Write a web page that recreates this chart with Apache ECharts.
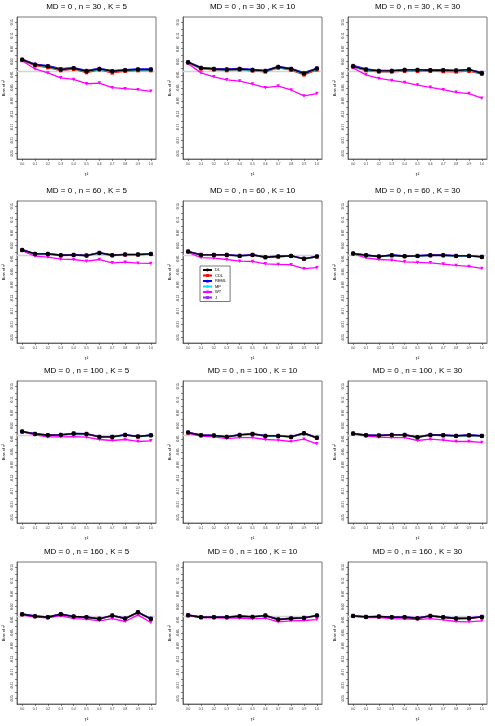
<!DOCTYPE html>
<html>
<head>
<meta charset="utf-8">
<script src="https://cdn.jsdelivr.net/npm/echarts@6.0.0/dist/echarts.min.js"></script>
<style>
  html, body { margin: 0; padding: 0; background: #fff; }
  #main { width: 495px; height: 726px; }
</style>
</head>
<body>
<div id="main"></div>
<script>
// x values (tau^2) and axis ticks
var xVals = [0.0, 0.1, 0.2, 0.3, 0.4, 0.5, 0.6, 0.7, 0.8, 0.9, 1.0];
var yLabelVals = [-0.25, -0.21, -0.17, -0.13, -0.09, -0.05, -0.01, 0.03, 0.07, 0.11, 0.15];
var yTickVals = [-0.25, -0.23, -0.21, -0.19, -0.17, -0.15, -0.13, -0.11, -0.09, -0.07, -0.05,
                 -0.03, -0.01, 0.01, 0.03, 0.05, 0.07, 0.09, 0.11, 0.13, 0.15];

var panelTitles = [
  'MD = 0 , n = 30 , K = 5',  'MD = 0 , n = 30 , K = 10',  'MD = 0 , n = 30 , K = 30',
  'MD = 0 , n = 60 , K = 5',  'MD = 0 , n = 60 , K = 10',  'MD = 0 , n = 60 , K = 30',
  'MD = 0 , n = 100 , K = 5', 'MD = 0 , n = 100 , K = 10', 'MD = 0 , n = 100 , K = 30',
  'MD = 0 , n = 160 , K = 5', 'MD = 0 , n = 160 , K = 10', 'MD = 0 , n = 160 , K = 30'
];

// one row per panel, 11 values each (tau^2 = 0 .. 1)
var dl = [
  [0.036, 0.021, 0.016, 0.006, 0.010, 0.001, 0.008, 0.001, 0.004, 0.006, 0.006],
  [0.028, 0.011, 0.008, 0.006, 0.008, 0.005, 0.002, 0.014, 0.008, -0.006, 0.009],
  [0.016, 0.006, 0.002, 0.002, 0.005, 0.005, 0.004, 0.004, 0.003, 0.006, -0.005],
  [0.017, 0.005, 0.005, 0.001, 0.002, 0.000, 0.008, 0.001, 0.003, 0.003, 0.005],
  [0.012, 0.002, 0.002, 0.002, -0.001, 0.002, -0.005, -0.003, -0.001, -0.010, -0.003],
  [0.006, 0.001, -0.003, 0.001, -0.002, -0.001, 0.001, 0.001, -0.001, -0.001, -0.004],
  [0.012, 0.005, 0.001, 0.002, 0.006, 0.005, -0.004, -0.004, 0.002, -0.003, 0.001],
  [0.009, 0.001, 0.000, -0.004, 0.002, 0.005, -0.001, -0.001, -0.004, 0.007, -0.007],
  [0.006, 0.001, 0.000, 0.002, 0.002, -0.005, 0.002, 0.001, -0.001, 0.001, -0.001],
  [0.007, 0.001, -0.002, 0.007, 0.000, -0.002, -0.007, 0.003, -0.006, 0.013, -0.007],
  [0.004, -0.002, -0.002, -0.002, 0.001, -0.001, 0.003, -0.009, -0.006, -0.004, 0.003],
  [0.002, -0.001, 0.000, -0.002, -0.002, -0.005, 0.002, -0.002, -0.006, -0.005, -0.001]
];
var cdl = [
  [0.034, 0.018, 0.012, 0.003, 0.007, -0.003, 0.005, -0.004, 0.001, 0.003, 0.003],
  [0.026, 0.008, 0.005, 0.003, 0.005, 0.002, -0.001, 0.011, 0.004, -0.010, 0.005],
  [0.013, 0.003, -0.001, -0.001, 0.001, 0.001, 0.001, 0.000, -0.001, 0.001, -0.008],
  [0.016, 0.004, 0.004, 0.000, 0.001, -0.001, 0.007, 0.000, 0.002, 0.002, 0.004],
  [0.011, 0.001, 0.001, 0.001, -0.002, 0.001, -0.006, -0.004, -0.002, -0.011, -0.004],
  [0.005, 0.000, -0.004, 0.000, -0.003, -0.002, 0.000, 0.000, -0.002, -0.002, -0.005],
  [0.011, 0.004, 0.000, 0.001, 0.005, 0.004, -0.005, -0.005, 0.001, -0.004, 0.000],
  [0.008, 0.000, -0.001, -0.005, 0.001, 0.004, -0.002, -0.002, -0.005, 0.006, -0.008],
  [0.005, 0.000, -0.001, 0.001, 0.001, -0.006, 0.001, 0.000, -0.002, 0.000, -0.002],
  [0.006, 0.000, -0.003, 0.006, -0.001, -0.003, -0.008, 0.002, -0.007, 0.012, -0.008],
  [0.003, -0.003, -0.003, -0.003, 0.000, -0.002, 0.002, -0.010, -0.007, -0.005, 0.002],
  [0.001, -0.002, -0.001, -0.003, -0.003, -0.006, 0.001, -0.003, -0.007, -0.006, -0.002]
];
var reml = [
  [0.038, 0.023, 0.018, 0.009, 0.012, 0.004, 0.010, 0.003, 0.006, 0.008, 0.008],
  [0.030, 0.013, 0.010, 0.008, 0.010, 0.007, 0.004, 0.016, 0.010, -0.003, 0.011],
  [0.019, 0.008, 0.004, 0.004, 0.006, 0.006, 0.005, 0.005, 0.004, 0.006, -0.002],
  [0.018, 0.006, 0.006, 0.002, 0.003, 0.001, 0.009, 0.002, 0.004, 0.004, 0.006],
  [0.013, 0.003, 0.003, 0.003, 0.000, 0.003, -0.004, -0.002, 0.000, -0.009, -0.002],
  [0.007, 0.002, -0.002, 0.002, -0.001, 0.000, 0.002, 0.002, 0.000, 0.000, -0.003],
  [0.013, 0.006, 0.002, 0.003, 0.007, 0.006, -0.003, -0.003, 0.003, -0.002, 0.002],
  [0.010, 0.002, 0.001, -0.003, 0.003, 0.006, 0.000, 0.000, -0.003, 0.008, -0.006],
  [0.007, 0.002, 0.001, 0.003, 0.003, -0.004, 0.003, 0.002, 0.000, 0.002, 0.000],
  [0.008, 0.002, -0.001, 0.008, 0.001, -0.001, -0.006, 0.004, -0.005, 0.014, -0.006],
  [0.005, -0.001, -0.001, -0.001, 0.002, 0.000, 0.004, -0.008, -0.005, -0.003, 0.004],
  [0.003, 0.000, 0.001, -0.001, -0.001, -0.004, 0.003, -0.001, -0.005, -0.004, 0.000]
];
var mp = [
  [0.035, 0.020, 0.014, 0.004, 0.008, 0.000, 0.006, -0.001, 0.002, 0.004, 0.004],
  [0.027, 0.009, 0.006, 0.004, 0.006, 0.003, 0.000, 0.012, 0.006, -0.008, 0.007],
  [0.014, 0.004, 0.000, 0.000, 0.003, 0.002, 0.002, 0.002, 0.001, 0.003, -0.006],
  [0.016, 0.004, 0.004, 0.001, 0.001, -0.001, 0.007, 0.000, 0.002, 0.002, 0.004],
  [0.011, 0.001, 0.001, 0.001, -0.002, 0.001, -0.005, -0.004, -0.002, -0.010, -0.004],
  [0.005, 0.000, -0.003, 0.000, -0.002, -0.002, 0.000, 0.000, -0.002, -0.002, -0.004],
  [0.011, 0.004, 0.001, 0.001, 0.005, 0.004, -0.004, -0.005, 0.001, -0.003, 0.000],
  [0.008, 0.000, -0.001, -0.004, 0.001, 0.004, -0.002, -0.001, -0.004, 0.006, -0.007],
  [0.005, 0.000, 0.000, 0.001, 0.001, -0.005, 0.001, 0.000, -0.001, 0.000, -0.001],
  [0.006, 0.000, -0.002, 0.006, 0.000, -0.002, -0.007, 0.002, -0.006, 0.012, -0.007],
  [0.003, -0.002, -0.002, -0.002, 0.000, -0.001, 0.002, -0.009, -0.006, -0.004, 0.002],
  [0.001, -0.001, 0.000, -0.002, -0.002, -0.005, 0.001, -0.002, -0.006, -0.005, -0.001]
];
var wt = [
  [0.033, 0.008, -0.004, -0.019, -0.024, -0.037, -0.035, -0.049, -0.052, -0.055, -0.060],
  [0.024, -0.004, -0.016, -0.025, -0.029, -0.038, -0.049, -0.044, -0.056, -0.074, -0.067],
  [0.011, -0.010, -0.021, -0.027, -0.033, -0.041, -0.048, -0.055, -0.063, -0.067, -0.081],
  [0.015, -0.002, -0.005, -0.011, -0.012, -0.017, -0.012, -0.022, -0.020, -0.023, -0.024],
  [0.010, -0.006, -0.008, -0.012, -0.017, -0.018, -0.025, -0.027, -0.028, -0.040, -0.037],
  [0.005, -0.007, -0.012, -0.014, -0.019, -0.021, -0.022, -0.026, -0.030, -0.033, -0.039],
  [0.011, 0.002, -0.004, -0.004, -0.003, -0.005, -0.012, -0.015, -0.012, -0.018, -0.016],
  [0.007, -0.002, -0.004, -0.009, -0.006, -0.006, -0.012, -0.014, -0.018, -0.011, -0.025],
  [0.005, -0.002, -0.005, -0.006, -0.006, -0.015, -0.011, -0.014, -0.018, -0.018, -0.021],
  [0.005, -0.002, -0.004, 0.003, -0.006, -0.008, -0.013, -0.006, -0.015, 0.005, -0.018],
  [0.003, -0.003, -0.003, -0.005, -0.005, -0.007, -0.005, -0.016, -0.013, -0.012, -0.009],
  [0.001, -0.003, -0.003, -0.006, -0.007, -0.009, -0.006, -0.010, -0.015, -0.016, -0.013]
];
var jk = [
  [0.037, 0.022, 0.017, 0.008, 0.011, 0.003, 0.009, 0.002, 0.005, 0.007, 0.007],
  [0.029, 0.012, 0.009, 0.007, 0.009, 0.006, 0.003, 0.015, 0.009, -0.005, 0.010],
  [0.018, 0.007, 0.003, 0.003, 0.006, 0.006, 0.005, 0.005, 0.004, 0.007, -0.003],
  [0.018, 0.006, 0.006, 0.002, 0.003, 0.001, 0.009, 0.002, 0.004, 0.004, 0.006],
  [0.013, 0.003, 0.003, 0.003, 0.000, 0.003, -0.004, -0.002, 0.000, -0.009, -0.002],
  [0.007, 0.002, -0.002, 0.002, -0.001, 0.000, 0.002, 0.002, 0.000, 0.000, -0.003],
  [0.013, 0.006, 0.002, 0.003, 0.007, 0.006, -0.003, -0.003, 0.003, -0.002, 0.002],
  [0.010, 0.002, 0.001, -0.003, 0.003, 0.006, 0.000, 0.000, -0.003, 0.008, -0.006],
  [0.007, 0.002, 0.001, 0.003, 0.003, -0.004, 0.003, 0.002, 0.000, 0.002, 0.000],
  [0.008, 0.002, -0.001, 0.008, 0.001, -0.001, -0.006, 0.004, -0.005, 0.014, -0.006],
  [0.005, -0.001, -0.001, -0.001, 0.002, 0.000, 0.004, -0.008, -0.005, -0.003, 0.004],
  [0.003, 0.000, 0.001, -0.001, -0.001, -0.004, 0.003, -0.001, -0.005, -0.004, 0.000]
];

var methods = [
  {name: 'CDL',  data: cdl,  color: '#ff0000', symbol: 'rect',     rot: 0,   width: 1.2, z: 3},
  {name: 'REML', data: reml, color: '#0000ff', symbol: 'triangle', rot: 0,   width: 1.2, z: 3},
  {name: 'MP',   data: mp,   color: '#00e5ee', symbol: 'diamond',  rot: 0,   width: 1.2, z: 3},
  {name: 'J',    data: jk,   color: '#a020f0', symbol: 'rect',     rot: 0,   width: 1.2, z: 4},
  {name: 'WT',   data: wt,   color: '#ff00ff', symbol: 'triangle', rot: 180, width: 1.3, z: 4},
  {name: 'DL',   data: dl,   color: '#000000', symbol: 'circle',   rot: 0,   width: 1.4, z: 5}
];

var colLeft = [17, 183, 348];
var rowTop = [17, 201, 381, 562];
var boxW = 139, boxH = 142;
var fontFam = '"Liberation Sans", Arial, sans-serif';

var grids = [], xAxes = [], yAxes = [], titles = [], series = [];

for (var p = 0; p < 12; p++) {
  var r = Math.floor(p / 3), c = p % 3;
  grids.push({
    left: colLeft[c], top: rowTop[r], width: boxW, height: boxH,
    show: true, borderColor: '#777', borderWidth: 1, backgroundColor: '#fff'
  });
  titles.push({
    text: panelTitles[p],
    left: colLeft[c] + boxW / 2, top: rowTop[r] - 14, textAlign: 'center', padding: 0,
    textStyle: {fontSize: 8, fontWeight: 'normal', color: '#000', fontFamily: fontFam}
  });
  xAxes.push({
    type: 'value', gridIndex: p, min: -0.04, max: 1.04,
    name: 'τ²', nameLocation: 'middle', nameGap: 13,
    nameTextStyle: {fontSize: 4.5, color: '#000', fontFamily: fontFam},
    axisLine: {show: true, onZero: false, lineStyle: {color: '#333', width: 0.6}},
    axisTick: {show: true, length: 2, customValues: xVals, lineStyle: {color: '#333', width: 0.6}},
    axisLabel: {
      show: true, customValues: xVals, fontSize: 3.2, color: '#333', margin: 4,
      fontFamily: fontFam, formatter: function (v) { return v.toFixed(1); }
    },
    splitLine: {show: false}
  });
  yAxes.push({
    type: 'value', gridIndex: p, min: -0.266, max: 0.166,
    name: 'Bias of τ²', nameLocation: 'middle', nameGap: 11, nameRotate: 90,
    nameTextStyle: {fontSize: 4, color: '#000', fontFamily: fontFam},
    axisLine: {show: true, onZero: false, lineStyle: {color: '#333', width: 0.6}},
    axisTick: {show: true, length: 2, customValues: yTickVals, lineStyle: {color: '#333', width: 0.6}},
    axisLabel: {
      show: true, customValues: yLabelVals, fontSize: 3.2, color: '#333', rotate: 90, margin: 3,
      fontFamily: fontFam, formatter: function (v) { return v.toFixed(2); }
    },
    splitLine: {show: false}
  });
  methods.forEach(function (m, k) {
    var s = {
      name: m.name, type: 'line', xAxisIndex: p, yAxisIndex: p,
      data: xVals.map(function (x, i) { return [x, m.data[p][i]]; }),
      symbol: m.symbol, symbolSize: m.name === 'DL' ? 4.5 : 3.5, symbolRotate: m.rot,
      showSymbol: true, z: m.z,
      lineStyle: {color: m.color, width: m.width},
      itemStyle: {color: m.color},
      emphasis: {disabled: true}
    };
    if (k === 0) {
      s.markLine = {
        silent: true, symbol: 'none', z: 1,
        label: {show: false},
        lineStyle: {color: '#d4d4d4', width: 1.4, type: 'solid'},
        data: [{yAxis: 0}]
      };
    }
    series.push(s);
  });
}

var option = {
  animation: false,
  backgroundColor: '#fff',
  title: titles,
  grid: grids,
  xAxis: xAxes,
  yAxis: yAxes,
  legend: {
    data: ['DL', 'CDL', 'REML', 'MP', 'WT', 'J'],
    orient: 'vertical', left: 200, top: 266,
    itemWidth: 9, itemHeight: 3.5, itemGap: 1.5,
    padding: [2, 4, 2, 2],
    borderColor: '#555', borderWidth: 0.8, backgroundColor: '#fff',
    textStyle: {fontSize: 4, color: '#000', fontFamily: fontFam, padding: [0, 0, 0, -2]},
    selectedMode: false
  },
  series: series
};

echarts.init(document.getElementById('main')).setOption(option);
</script>
</body>
</html>
